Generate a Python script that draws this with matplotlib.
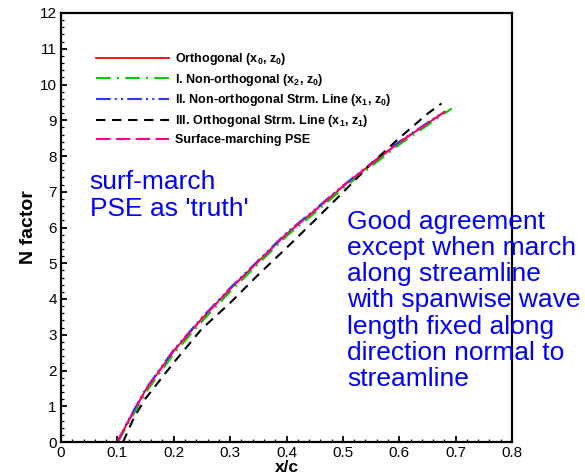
import numpy as np
import matplotlib
matplotlib.use("Agg")
import matplotlib.pyplot as plt
from matplotlib.ticker import MultipleLocator

plt.rcParams['font.family'] = ['Liberation Sans', 'DejaVu Sans']
plt.rcParams['mathtext.fontset'] = 'custom'
plt.rcParams['mathtext.rm'] = 'Liberation Sans:bold'
plt.rcParams['mathtext.it'] = 'Liberation Sans:bold'
plt.rcParams['mathtext.bf'] = 'Liberation Sans:bold'

# x/c and N factor
x_orth = [0.100, 0.120, 0.150, 0.200, 0.250, 0.300, 0.350, 0.400, 0.450, 0.500, 0.550, 0.600, 0.650, 0.681]
n_orth = [0.00, 0.60, 1.45, 2.55, 3.45, 4.28, 5.05, 5.82, 6.47, 7.15, 7.77, 8.38, 8.91, 9.24]

x_nonorth = [0.101, 0.121, 0.151, 0.201, 0.251, 0.301, 0.351, 0.401, 0.451, 0.501, 0.551, 0.601, 0.651, 0.693]
n_nonorth = [0.00, 0.56, 1.40, 2.49, 3.39, 4.22, 5.00, 5.77, 6.42, 7.10, 7.72, 8.33, 8.87, 9.33]

x_strm = [0.100, 0.120, 0.150, 0.200, 0.250, 0.300, 0.350, 0.400, 0.450, 0.500, 0.550, 0.600, 0.650, 0.680]
n_strm = [0.00, 0.63, 1.48, 2.58, 3.48, 4.31, 5.08, 5.85, 6.50, 7.17, 7.79, 8.40, 8.93, 9.24]

x_orth_strm = [0.110, 0.130, 0.150, 0.200, 0.250, 0.300, 0.350, 0.400, 0.450, 0.500, 0.550, 0.600, 0.650, 0.675]
n_orth_strm = [0.00, 0.70, 1.22, 2.22, 3.17, 3.89, 4.68, 5.43, 6.20, 6.98, 7.78, 8.50, 9.18, 9.47]

x_pse = [0.100, 0.120, 0.150, 0.200, 0.250, 0.300, 0.350, 0.400, 0.450, 0.500, 0.550, 0.600, 0.650, 0.681]
n_pse = [0.00, 0.60, 1.45, 2.55, 3.45, 4.28, 5.05, 5.82, 6.47, 7.15, 7.77, 8.38, 8.91, 9.24]

labels = [
    r'Orthogonal (x$_0$, z$_0$)',
    r'I. Non-orthogonal (x$_2$, z$_0$)',
    r'II. Non-orthogonal Strm. Line (x$_1$, z$_0$)',
    r'III. Orthogonal Strm. Line (x$_1$, z$_1$)',
    'Surface-marching PSE',
]


def main():
    fig = plt.figure(figsize=(5.85, 4.74), dpi=100)
    ax = fig.add_axes([61 / 585, 32 / 474, 451 / 585, 429 / 474])

    ax.plot(x_orth, n_orth, color='#ff0000', lw=1.3, label=labels[0])
    ax.plot(x_nonorth, n_nonorth, color='#00cc00', lw=1.5,
            dashes=(7, 3, 1, 3), label=labels[1])
    ax.plot(x_strm, n_strm, color='#3333ff', lw=1.5,
            dashes=(7, 2, 1, 2, 1, 2), label=labels[2])
    ax.plot(x_orth_strm, n_orth_strm, color='black', lw=1.5,
            dashes=(4.5, 3.2), label=labels[3])
    ax.plot(x_pse, n_pse, color='#ff0080', lw=1.5,
            dashes=(7, 2.5), label=labels[4])

    ax.set_xlim(0, 0.8)
    ax.set_ylim(0, 12)
    ax.xaxis.set_minor_locator(MultipleLocator(0.02))
    ax.yaxis.set_major_locator(MultipleLocator(1))
    ax.yaxis.set_minor_locator(MultipleLocator(0.2))
    ax.set_xticks(np.arange(0, 0.81, 0.1))
    ax.set_xticklabels(['0', '0.1', '0.2', '0.3', '0.4', '0.5', '0.6', '0.7', '0.8'])

    ax.tick_params(which='major', direction='in', length=4.5, width=1.3,
                   labelsize=11, pad=3)
    ax.tick_params(which='minor', direction='in', length=2.5, width=0.9)
    for sp in ax.spines.values():
        sp.set_linewidth(1.6)

    ax.set_xlabel('x/c', fontsize=12.5, fontweight='bold', labelpad=0)
    ax.set_ylabel('N factor', fontsize=14, fontweight='bold', labelpad=2)

    ax.legend(loc='upper left', bbox_to_anchor=(96 / 585, 1 - 51 / 474),
              bbox_transform=fig.transFigure, frameon=False,
              prop={'size': 9, 'weight': 'bold'}, handlelength=5.8,
              handletextpad=0.55, labelspacing=0.38, borderpad=0,
              borderaxespad=0)

    ax.text(0.051, 7.6, "surf-march\nPSE as 'truth'", color='#0000ff',
            fontsize=19, va='top', ha='left', linespacing=1.12)
    ax.text(0.507, 6.5, "Good agreement\nexcept when march\nalong streamline\n"
            "with spanwise wave\nlength fixed along\ndirection normal to\nstreamline",
            color='#0000ff', fontsize=19, va='top', ha='left', linespacing=1.12,
            clip_on=False)

    fig.savefig('out.png', dpi=100)


if __name__ == "__main__":
    main()
